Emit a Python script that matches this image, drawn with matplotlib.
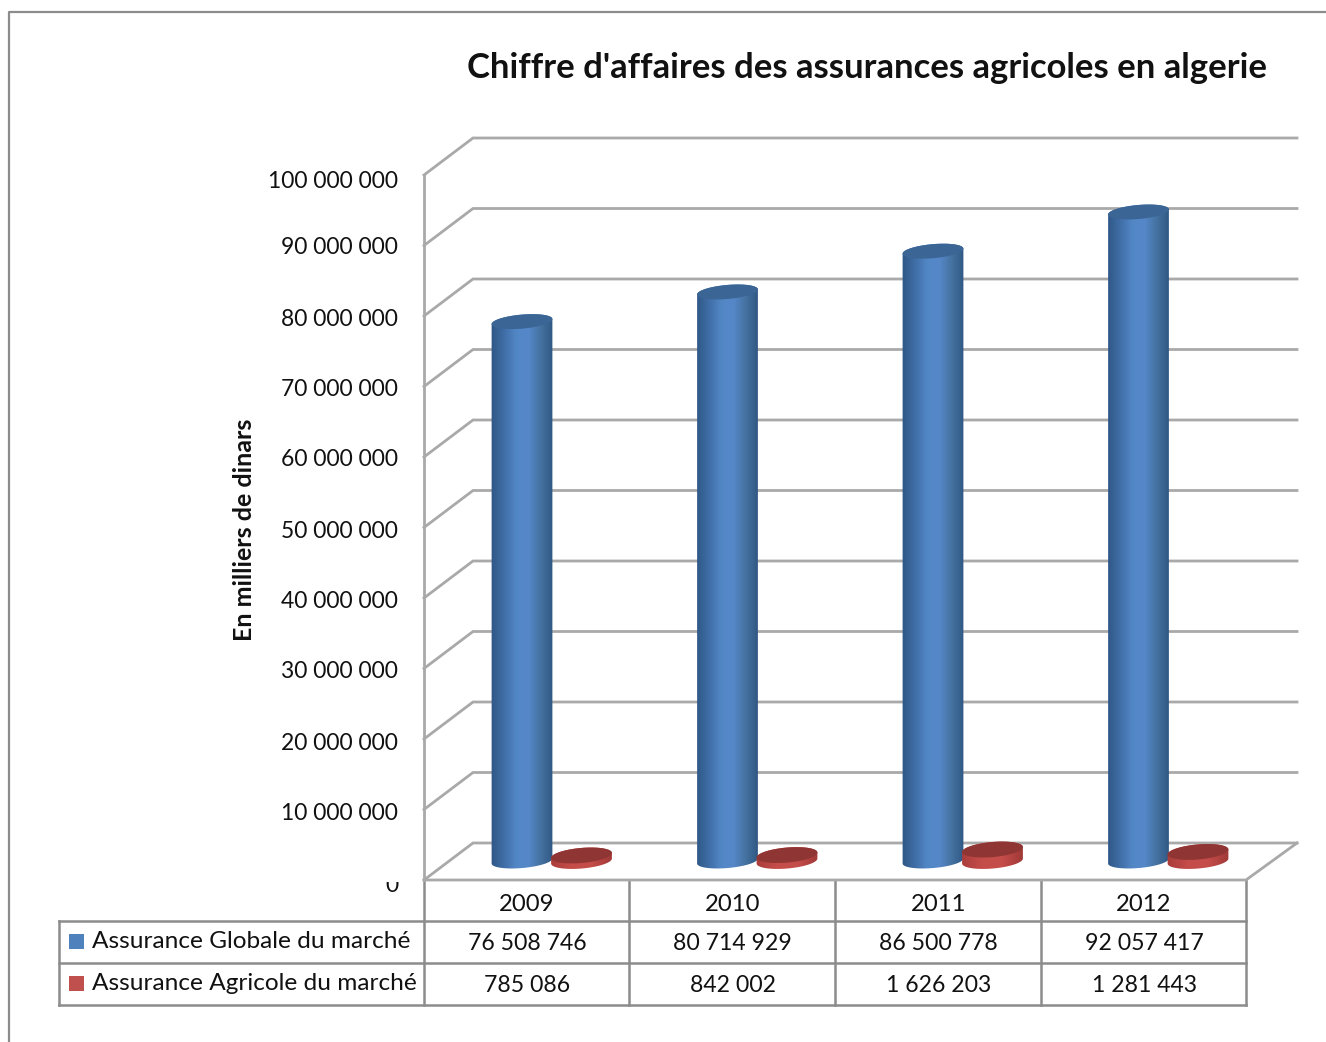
#!/usr/bin/env python3
"""Chiffre d'affaires des assurances agricoles: faux 3D cylinder chart with data table."""

import matplotlib
matplotlib.use("Agg")
import matplotlib.pyplot as plt
import numpy as np
from matplotlib.colors import LinearSegmentedColormap
from matplotlib.patches import Polygon, Rectangle
from matplotlib.transforms import Bbox

plt.rcParams['font.family'] = ['Lato', 'DejaVu Sans']

years = ['2009', '2010', '2011', '2012']
global_market = [76508746, 80714929, 86500778, 92057417]
agri_market = [785086, 842002, 1626203, 1281443]
series_names = ['Assurance Globale du marché', 'Assurance Agricole du marché']
y_ticks = list(range(0, 100000001, 10000000))

W, H = 1326, 1042
LEFT, BOTTOM = 424, 880      # pixel position of category 0 / value 0
PX_PER_CAT = 205.5
PX_PER_VAL = 705 / 1e8
DEPTH_X, DEPTH_Y = 49, 37    # wall offset, pixels
BASE_PX = 19                 # cylinders stand this far behind the front edge
GRID = '#a9a9a9'
LINE = '#8c8c8c'


def fmt(v):
    return f"{v:,}".replace(',', ' ')


fig = plt.figure(figsize=(W / 100, H / 100), dpi=100)

# pixel axes for the frame, table and labels
ax_px = fig.add_axes([0, 0, 1, 1])
ax_px.set_xlim(0, W)
ax_px.set_ylim(H, 0)
ax_px.axis('off')

# data axes, same area of the figure
ax = fig.add_axes([0, 0, 1, 1], facecolor='none')
ax.axis('off')
xlim = (-LEFT / PX_PER_CAT, (W - LEFT) / PX_PER_CAT)
ylim = ((BOTTOM - H) / PX_PER_VAL, BOTTOM / PX_PER_VAL)
dx = DEPTH_X / PX_PER_CAT
dy = DEPTH_Y / PX_PER_VAL
n = len(years)
right_back = (1297 - LEFT) / PX_PER_CAT

# walls and gridlines
for v in y_ticks:
    ax.plot([0, dx, right_back], [v, v + dy, v + dy], color=GRID, lw=2.0,
            solid_joinstyle='miter', zorder=1)
ax.plot([0, 0], [0, y_ticks[-1]], color=GRID, lw=2.0, zorder=1)
ax.plot([0, n, right_back], [0, 0, dy], color=GRID, lw=2.0, zorder=1)

blue_cmap = LinearSegmentedColormap.from_list(
    'blue', ['#2f5786', '#3f6da5', '#5287c6', '#5688c9', '#44719f', '#2f5682'])
red_cmap = LinearSegmentedColormap.from_list(
    'red', ['#a83c3a', '#c54d4a', '#c44c49', '#9e3836'])


def cylinder(center, value, half_px, cmap, top_color, ry):
    t = np.linspace(0, np.pi, 60)
    tilt = np.radians(-5)
    ex = half_px * np.cos(t)
    ey = ry * np.sin(t)
    lower_x = (ex * np.cos(tilt) - ey * np.sin(tilt)) / PX_PER_CAT
    lower_y = -(ex * np.sin(tilt) + ey * np.cos(tilt)) / PX_PER_VAL
    base = BASE_PX / PX_PER_VAL
    top = base + value
    # body: lower half of base ellipse, upper half of top ellipse
    bx = center + lower_x
    by = base + lower_y
    tx = center - lower_x
    ty = top - lower_y
    body = Polygon(np.column_stack([np.r_[bx, tx], np.r_[by, ty]]),
                   closed=True, transform=ax.transData, fc='none', ec='none')
    ax.add_patch(body)
    half = half_px / PX_PER_CAT
    extent = (center - half * 1.02, center + half * 1.02,
              base - 2 * ry / PX_PER_VAL, top + 2 * ry / PX_PER_VAL)
    im = ax.imshow(np.linspace(0, 1, 128).reshape(1, -1), cmap=cmap, extent=extent,
                   aspect='auto', zorder=3, interpolation='bilinear')
    im.set_clip_path(body)
    cap = np.column_stack([np.r_[center + lower_x, center - lower_x],
                           np.r_[top + lower_y, top - lower_y]])
    ax.add_patch(Polygon(cap, closed=True, fc=top_color, ec='none', zorder=4))


for i in range(n):
    cylinder(i + 98 / PX_PER_CAT, global_market[i], 30.5, blue_cmap, '#3a6594', 7.0)
    cylinder(i + 157.5 / PX_PER_CAT, agri_market[i], 30.5, red_cmap, '#8f3533', 7.5)

ax.set_xlim(*xlim)
ax.set_ylim(*ylim)

# outer frame
ax_px.plot([W, 9, 9], [12, 12, H], color=LINE, lw=1.6)

# data table
col_x = [424, 629, 835, 1041, 1246]
row_y = [880, 921, 963, 1005]
for x in col_x:
    ax_px.plot([x, x], [row_y[0], row_y[-1]], color=LINE, lw=1.8)
for y in row_y[1:]:
    ax_px.plot([59, col_x[-1]], [y, y], color=LINE, lw=1.8)
ax_px.plot([59, 59], [row_y[1], row_y[-1]], color=LINE, lw=1.8)

for i, year in enumerate(years):
    cx = (col_x[i] + col_x[i + 1]) / 2 + 0.5
    ax_px.text(cx, 904.5, year, ha='center', va='center', fontsize=17.2, color='#111111')
    ax_px.text(cx, 943, fmt(global_market[i]), ha='center', va='center', fontsize=16.6, color='#111111')
    ax_px.text(cx, 985, fmt(agri_market[i]), ha='center', va='center', fontsize=16.6, color='#111111')

for name, color, y in zip(series_names, ['#4f81bd', '#c0504d'], [941.5, 983.5]):
    ax_px.add_patch(Rectangle((69, y - 7.5), 15, 15, fc=color, ec='none'))
    ax_px.text(92, y, name, ha='left', va='center', fontsize=17.6, color='#111111')

# value axis labels
label_y = [885, 813, 743, 672, 601, 531, 460, 390, 319, 248, 181]
for v, y in zip(y_ticks, label_y):
    txt = ax_px.text(398, y, fmt(v), ha='right', va='center', fontsize=16.45, color='#111111')
    if v == 0:
        # the zero is cut by the floor of the plot in the original
        txt.set_clip_on(True)
        txt.set_clip_box(Bbox([[0, 0], [W, H - 882]]))

ax_px.text(244, 530, 'En milliers de dinars', rotation=90, ha='center', va='center',
           fontsize=18, fontweight='bold', color='#111111')
ax_px.text(867, 68, "Chiffre d'affaires des assurances agricoles en algerie", ha='center',
           va='center', fontsize=24.9, fontweight='bold', color='#111111')

fig.savefig('out.png', dpi=100, facecolor='white')
